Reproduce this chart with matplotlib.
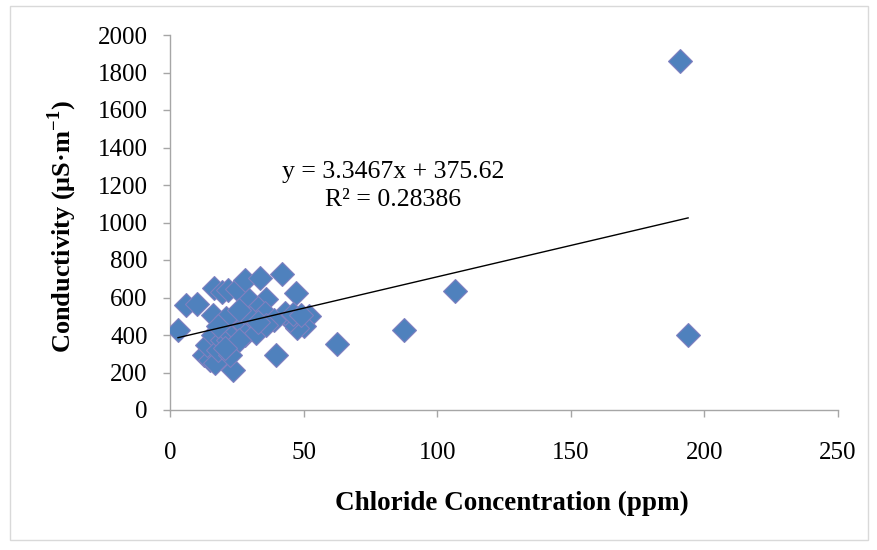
import matplotlib
matplotlib.use("Agg")
import matplotlib.pyplot as plt
from matplotlib.patches import Rectangle
import numpy as np

chloride = [3, 6, 10, 16.5, 19.5, 21.7, 25, 28, 33.7, 42, 47, 36, 29.6, 33, 35.5,
            16, 87.6, 106.7, 62.5, 39.7, 23.6, 190.9, 193.9, 52, 50, 47.5, 45, 43,
            46, 49, 12.7, 15, 17, 14, 16, 18, 19.5, 21.7, 21, 23, 24.7, 27.7, 30,
            28, 32, 26, 22.5, 21, 26, 39, 36, 33, 18, 20.6]
conductivity = [427, 560, 565, 650, 630, 640, 645, 695, 705, 725, 625, 590, 585,
                545, 520, 505, 427, 635, 350, 293, 213, 1860, 400, 500, 450, 437,
                480, 517, 512, 507, 293, 267, 250, 347, 400, 320, 373, 373, 427,
                453, 490, 453, 490, 400, 410, 373, 293, 490, 533, 480, 453, 470,
                448, 330]

slope = 3.3467
intercept = 375.62
eq_text = "y = 3.3467x + 375.62"
r2_text = "R² = 0.28386"

plt.rcParams['font.family'] = ['Liberation Serif', 'DejaVu Serif']
plt.rcParams['mathtext.fontset'] = 'custom'
plt.rcParams['mathtext.rm'] = 'Liberation Serif'
plt.rcParams['mathtext.bf'] = 'Liberation Serif:bold'

fig = plt.figure(figsize=(8.77, 5.5), dpi=100)
ax = fig.add_axes([170/877, 1 - 410/550, (838-170)/877, (410-35)/550])

ax.plot(chloride, conductivity, linestyle='none', marker='D', markersize=12,
        markerfacecolor='#4F81BD', markeredgecolor='#8080C0', markeredgewidth=0.8,
        zorder=3)

xl = np.array([min(chloride), max(chloride)])
ax.plot(xl, slope * xl + intercept, color='black', linewidth=1, zorder=4)

ax.text(83.5, 1269, eq_text, ha='center', va='center', fontsize=18.5)
ax.text(83.5, 1120, r2_text, ha='center', va='center', fontsize=18.5)

ax.set_xlim(0, 250)
ax.set_ylim(0, 2000)
ax.set_xticks(np.arange(0, 251, 50))
ax.set_yticks(np.arange(0, 2001, 200))
for s in ['top', 'right']:
    ax.spines[s].set_visible(False)
for s in ['left', 'bottom']:
    ax.spines[s].set_color('#A6A6A6')
    ax.spines[s].set_linewidth(1)
ax.tick_params(axis='both', colors='#A6A6A6', labelcolor='black', labelsize=18,
               length=5, width=1, direction='out')
ax.tick_params(axis='x', pad=18)
ax.tick_params(axis='y', pad=11)

ax.set_xlabel('Chloride Concentration (ppm)', fontsize=19.5, fontweight='bold')
ax.xaxis.set_label_coords(0.512, -0.216)
ax.set_ylabel(r'Conductivity (μS·m$^{\mathbf{-1}}$)', fontsize=19, fontweight='bold')
ax.yaxis.set_label_coords(-0.136, 0.49)

fig.patches.append(Rectangle((10/877, 1 - 540/550), (868-10)/877, (540-6)/550,
                             transform=fig.transFigure, fill=False,
                             edgecolor='#D9D9D9', linewidth=1))

fig.savefig('out.png', dpi=100)
